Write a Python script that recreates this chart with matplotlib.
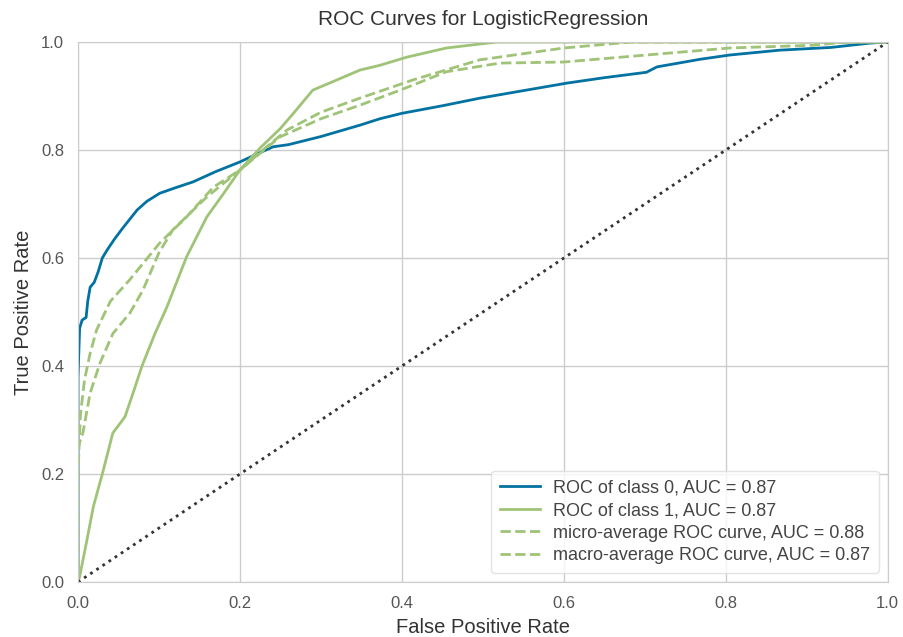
import numpy as np
import matplotlib
matplotlib.use("Agg")
import matplotlib.pyplot as plt

# ROC points
fpr_class0 = [0.0, 0.0, 0.002, 0.005, 0.01, 0.012, 0.015, 0.02, 0.025, 0.03, 0.036, 0.045, 0.055,
              0.073, 0.085, 0.101, 0.12, 0.142, 0.17, 0.2, 0.22, 0.241, 0.26, 0.3, 0.348, 0.373,
              0.4, 0.45, 0.496, 0.55, 0.604, 0.65, 0.702, 0.715, 0.768, 0.805, 0.867, 0.93,
              0.978, 1.0]
tpr_class0 = [0.0, 0.38, 0.47, 0.485, 0.49, 0.52, 0.546, 0.555, 0.575, 0.6, 0.615, 0.635, 0.655,
              0.689, 0.705, 0.72, 0.73, 0.741, 0.76, 0.778, 0.792, 0.806, 0.81, 0.825, 0.846,
              0.858, 0.868, 0.882, 0.896, 0.91, 0.924, 0.934, 0.944, 0.954, 0.968, 0.976, 0.985,
              0.99, 0.998, 1.0]

fpr_class1 = [0.0, 0.002, 0.01, 0.019, 0.03, 0.043, 0.05, 0.058, 0.068, 0.079, 0.095, 0.11,
              0.134, 0.159, 0.18, 0.2, 0.225, 0.25, 0.266, 0.29, 0.32, 0.348, 0.373, 0.406,
              0.455, 0.517, 1.0]
tpr_class1 = [0.0, 0.01, 0.07, 0.14, 0.2, 0.276, 0.29, 0.306, 0.35, 0.4, 0.46, 0.51,
              0.602, 0.676, 0.72, 0.763, 0.804, 0.84, 0.868, 0.911, 0.93, 0.948, 0.957, 0.972,
              0.989, 1.0, 1.0]

fpr_micro = [0.0, 0.0, 0.003, 0.008, 0.015, 0.023, 0.04, 0.064, 0.101, 0.134, 0.167, 0.2,
             0.233, 0.258, 0.3, 0.348, 0.414, 0.496, 0.6, 0.683, 1.0]
tpr_micro = [0.0, 0.2, 0.31, 0.374, 0.424, 0.467, 0.52, 0.56, 0.628, 0.676, 0.731, 0.763,
             0.806, 0.837, 0.87, 0.896, 0.93, 0.967, 0.989, 1.0, 1.0]

fpr_macro = [0.0, 0.0, 0.006, 0.015, 0.027, 0.043, 0.064, 0.08, 0.1, 0.117, 0.159, 0.2,
             0.249, 0.3, 0.348, 0.398, 0.455, 0.521, 0.6, 0.702, 0.805, 0.907, 0.95, 1.0]
tpr_macro = [0.0, 0.25, 0.276, 0.35, 0.405, 0.46, 0.498, 0.54, 0.61, 0.652, 0.713, 0.763,
             0.824, 0.858, 0.883, 0.911, 0.945, 0.961, 0.963, 0.976, 0.989, 0.994, 1.0, 1.0]

labels = ["ROC of class 0, AUC = 0.87", "ROC of class 1, AUC = 0.87",
          "micro-average ROC curve, AUC = 0.88", "macro-average ROC curve, AUC = 0.87"]

blue = "#0272a2"
green = "#9fc377"

plt.rcParams["font.family"] = ["Liberation Sans", "DejaVu Sans"]

fig = plt.figure(figsize=(9.04, 6.37), dpi=100)
ax = fig.add_axes([0.0863, 0.0863, 0.8957, 0.8477])

ax.plot(fpr_class0, tpr_class0, color=blue, lw=2, label=labels[0])
ax.plot(fpr_class1, tpr_class1, color=green, lw=2, label=labels[1])
ax.plot(fpr_micro, tpr_micro, color=green, lw=2, ls="--", label=labels[2])
ax.plot(fpr_macro, tpr_macro, color=green, lw=2, ls="--", label=labels[3])
ax.plot([0, 1], [0, 1], color="#333333", ls=":", lw=2)

ax.set_xlim(0, 1)
ax.set_ylim(0, 1)
ax.set_xticks([0, 0.2, 0.4, 0.6, 0.8, 1.0])
ax.set_yticks([0, 0.2, 0.4, 0.6, 0.8, 1.0])
ax.grid(True, color="#cccccc", lw=1)
ax.set_axisbelow(True)
for s in ax.spines.values():
    s.set_color("#cccccc")
ax.tick_params(colors="#555555", labelsize=12, length=0, pad=10)

ax.set_title("ROC Curves for LogisticRegression", fontsize=15, color="#333333", pad=12)
ax.set_xlabel("False Positive Rate", fontsize=14.5, color="#333333", labelpad=5)
ax.set_ylabel("True Positive Rate", fontsize=14.5, color="#333333", labelpad=6)

leg = ax.legend(loc="lower right", fontsize=13, frameon=True, framealpha=0.8,
                edgecolor="#dddddd", labelcolor="#444444", borderpad=0.5,
                labelspacing=0.3, handlelength=2.2, handletextpad=0.7,
                bbox_to_anchor=(1.0, 0.0))

fig.savefig("out.png", dpi=100)
